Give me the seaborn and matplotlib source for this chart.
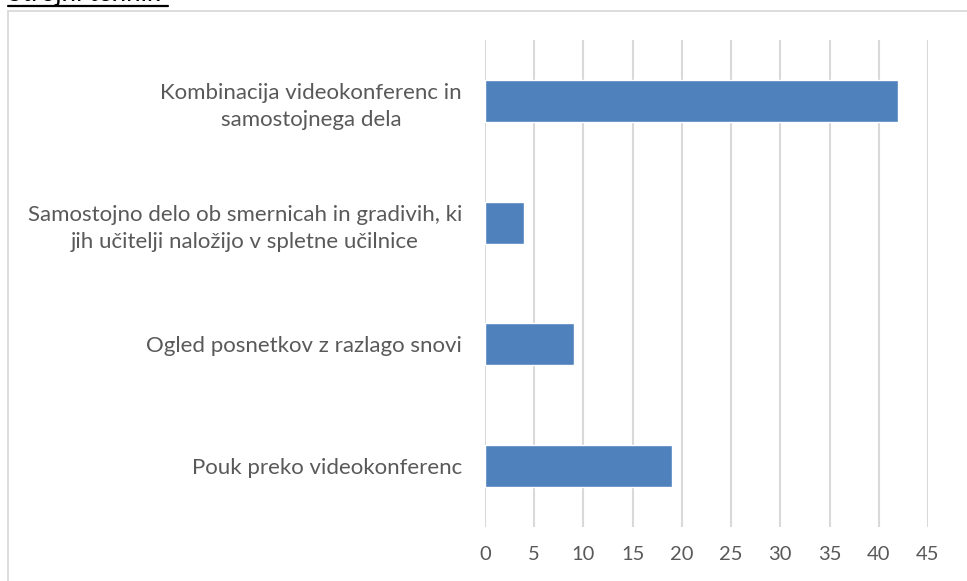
import matplotlib
matplotlib.use("Agg")
import matplotlib.pyplot as plt
import matplotlib.patches as patches
from matplotlib.lines import Line2D
import pandas as pd
import seaborn as sns

# data
categories = [
    "Kombinacija videokonferenc in\nsamostojnega dela",
    "Samostojno delo ob smernicah in gradivih, ki\njih učitelji naložijo v spletne učilnice",
    "Ogled posnetkov z razlago snovi",
    "Pouk preko videokonferenc",
]
values = [42, 4, 9, 19]
x_ticks = [0, 5, 10, 15, 20, 25, 30, 35, 40, 45]
title = "Strojni tehnik"

BAR = "#4f81bd"
GRID = "#d9d9d9"
TEXT = "#595959"

sns.set_theme(style="white")
plt.rcParams["font.family"] = ["Lato", "DejaVu Sans"]

W, H = 967, 581
fig = plt.figure(figsize=(W / 100, H / 100), dpi=100)

# chart frame (runs off the right and bottom edges)
fig.patches.append(patches.Rectangle((8 / W, -0.2), 1.2, 1.2 - 11 / H,
                                     transform=fig.transFigure, fill=False,
                                     edgecolor=GRID, linewidth=1.3))

# title above the frame, mostly clipped like in the source
fig.text(8 / W, 1 - 1 / H, title, ha="left", va="baseline", fontsize=18.5, color="black")
fig.lines.append(Line2D([8 / W, 168 / W], [1 - 6 / H, 1 - 6 / H], transform=fig.transFigure,
                        color="black", linewidth=1.6))

ax = fig.add_axes([485 / W, (H - 527) / H, (928 - 485) / W, (527 - 40) / H])
df = pd.DataFrame({"cat": categories, "val": values})
sns.barplot(data=df, x="val", y="cat", orient="h", color=BAR, width=0.345,
            saturation=1, ax=ax, zorder=3)

ax.set_xlim(0, 45)
ax.set_xticks(x_ticks)
ax.set_xlabel("")
ax.set_ylabel("")
ax.grid(axis="x", color=GRID, linewidth=1.5, zorder=0)
ax.set_axisbelow(True)
for s in ax.spines.values():
    s.set_visible(False)
ax.tick_params(axis="x", length=0, pad=14, labelsize=14.5, labelcolor=TEXT)
ax.tick_params(axis="y", length=0, pad=16.5, labelsize=16, labelcolor=TEXT)
for lab in ax.get_yticklabels():
    lab.set_multialignment("center")
    lab.set_linespacing(1.45)

fig.savefig("out.png", dpi=100)
